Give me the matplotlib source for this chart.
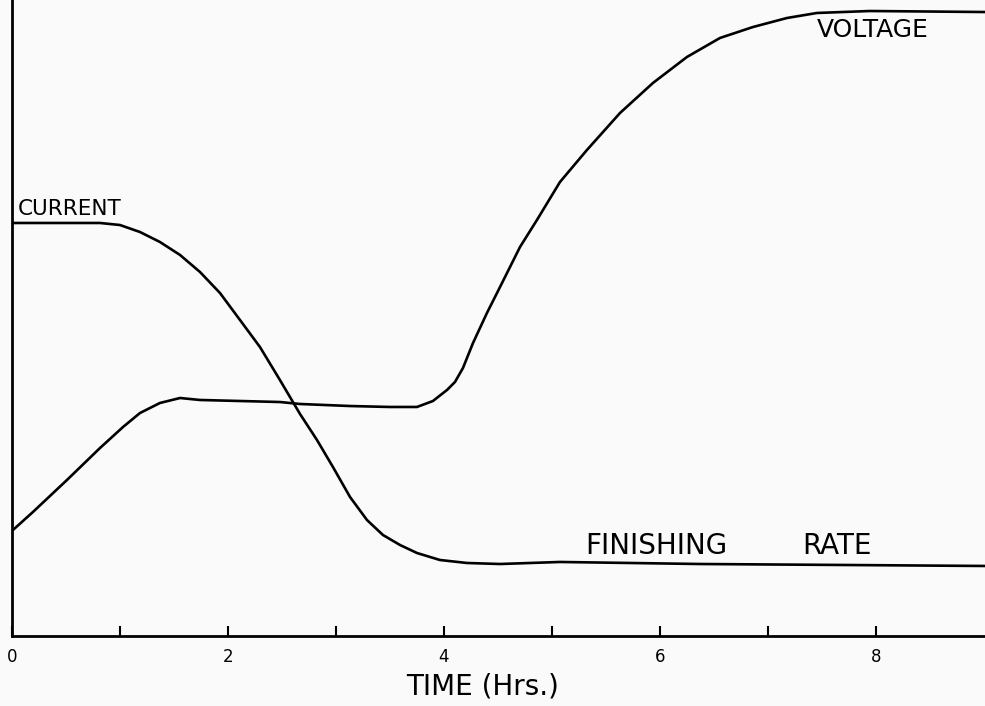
import matplotlib
matplotlib.use("Agg")
import matplotlib.pyplot as plt

# Data (time in hours, values in arbitrary % of axis height)
current_t = [0.0, 0.815, 1.0, 1.185, 1.370, 1.556, 1.741, 1.926, 2.111, 2.296, 2.481,
             2.667, 2.824, 2.972, 3.130, 3.287, 3.435, 3.593, 3.750, 3.963, 4.213,
             4.519, 5.074, 6.370, 7.759, 9.009]
current_v = [64.94, 64.94, 64.62, 63.52, 61.95, 59.91, 57.23, 53.93, 49.69, 45.44, 40.25,
             34.91, 30.82, 26.57, 21.86, 18.24, 15.88, 14.31, 13.05, 11.95, 11.48,
             11.32, 11.64, 11.32, 11.16, 11.01]

voltage_t = [0.009, 0.194, 0.509, 0.815, 1.028, 1.185, 1.370, 1.556, 1.741, 2.481, 2.667,
             3.130, 3.500, 3.750, 3.898, 4.028, 4.102, 4.176, 4.269, 4.398, 4.519, 4.704,
             4.861, 5.074, 5.324, 5.630, 5.935, 6.250, 6.556, 6.861, 7.176, 7.454, 7.944,
             9.009]
voltage_v = [16.67, 19.50, 24.53, 29.56, 32.86, 35.06, 36.64, 37.42, 37.11, 36.79, 36.48,
             36.16, 36.01, 36.01, 36.95, 38.68, 39.94, 42.14, 46.07, 50.79, 54.87, 61.16,
             65.41, 71.38, 76.42, 82.23, 86.95, 91.04, 94.03, 95.75, 97.17, 97.96, 98.27,
             98.11]

tick_positions = [0, 1, 2, 3, 4, 5, 6, 7, 8]
tick_labels = ["0", "", "2", "", "4", "", "6", "", "8"]

fig = plt.figure(figsize=(9.85, 7.06), dpi=100)
fig.patch.set_facecolor("#fafafa")
ax = fig.add_axes([12 / 985, 70 / 706, 973 / 985, 636 / 706])
ax.set_facecolor("#fafafa")

for t, v in [(current_t, current_v), (voltage_t, voltage_v)]:
    ax.plot(t, v, color="black", lw=1.9, solid_capstyle="round",
            solid_joinstyle="round")

ax.set_xlim(0, 9.01)
ax.set_ylim(0, 100)
for s in ["top", "right"]:
    ax.spines[s].set_visible(False)
for s in ["left", "bottom"]:
    ax.spines[s].set_linewidth(2.0)
ax.set_yticks([])
ax.set_xticks(tick_positions)
ax.set_xticklabels(tick_labels, fontsize=12)
ax.tick_params(axis="x", direction="in", length=7, width=1.5, pad=9)
ax.set_xlabel("TIME (Hrs.)", fontsize=20)
ax.xaxis.set_label_coords(0.484, -0.057)

ax.text(0.05, 65.5, "CURRENT", fontsize=15.5, va="bottom", ha="left")
ax.text(7.45, 97.2, "VOLTAGE", fontsize=18, va="top", ha="left")
ax.text(5.31, 12.0, "FINISHING", fontsize=20, va="bottom", ha="left")
ax.text(7.32, 12.0, "RATE", fontsize=20, va="bottom", ha="left")

fig.savefig("out.png", dpi=100, facecolor=fig.get_facecolor())
